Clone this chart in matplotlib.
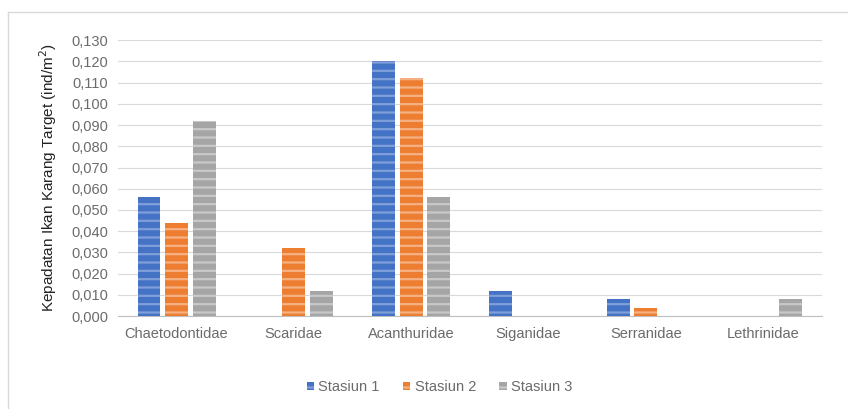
import matplotlib.pyplot as plt
import numpy as np

families = ['Chaetodontidae', 'Scaridae', 'Acanthuridae', 'Siganidae', 'Serranidae', 'Lethrinidae']
stasiun_1 = [0.056, 0.0, 0.120, 0.012, 0.008, 0.0]
stasiun_2 = [0.044, 0.032, 0.112, 0.0, 0.004, 0.0]
stasiun_3 = [0.092, 0.012, 0.056, 0.0, 0.0, 0.008]
series_names = ['Stasiun 1', 'Stasiun 2', 'Stasiun 3']
colors = ['#4472C4', '#ED7D31', '#A5A5A5']
hatch_colors = ['#7F9FD8', '#F5B083', '#C8C8C8']

plt.rcParams['font.family'] = ['Liberation Sans', 'DejaVu Sans']
plt.rcParams['hatch.linewidth'] = 1.6

fig = plt.figure(figsize=(8.48, 4.09), dpi=100)
fig.patch.set_facecolor('white')
ax = fig.add_axes([0.139, 0.227, 0.830, 0.675])

x = np.arange(len(families))
width = 0.195
step = 0.235
for i, vals in enumerate([stasiun_1, stasiun_2, stasiun_3]):
    ax.bar(x + (i - 1) * step, vals, width, color=colors[i], label=series_names[i],
           hatch='--', edgecolor=hatch_colors[i], linewidth=0, zorder=3)

ax.set_xlim(-0.5, len(families) - 0.5)
ax.set_ylim(0, 0.13)
yt = np.arange(0, 0.1301, 0.01)
ax.set_yticks(yt)
ax.set_yticklabels([f'{v:.3f}'.replace('.', ',') for v in yt])
ax.set_xticks(x)
ax.set_xticklabels(families)
ax.tick_params(axis='both', length=0, colors='#6B6B6B', labelsize=10.5)
ax.tick_params(axis='x', pad=8)
ax.tick_params(axis='y', pad=7)
ax.grid(axis='y', color='#D9D9D9', linewidth=0.8, zorder=0)
for s in ['top', 'right', 'left']:
    ax.spines[s].set_visible(False)
ax.spines['bottom'].set_color('#BFBFBF')
ax.set_ylabel('Kepadatan Ikan Karang Target (ind/m$^2$)', fontsize=11, color='#222222',
              labelpad=9)

leg = ax.legend(loc='upper center', bbox_to_anchor=(0.457, -0.185), ncol=3, frameon=False,
                fontsize=10.5, handlelength=0.5, handleheight=0.5, handletextpad=0.3,
                columnspacing=1.6)
for t in leg.get_texts():
    t.set_color('#6B6B6B')

fig.add_artist(plt.Line2D([0.0095, 1.0], [0.971, 0.971], transform=fig.transFigure,
                          color='#D9D9D9', linewidth=1))
fig.add_artist(plt.Line2D([0.0095, 0.0095], [0.0, 0.971], transform=fig.transFigure,
                          color='#D9D9D9', linewidth=1))

fig.savefig('out.png', dpi=100)
